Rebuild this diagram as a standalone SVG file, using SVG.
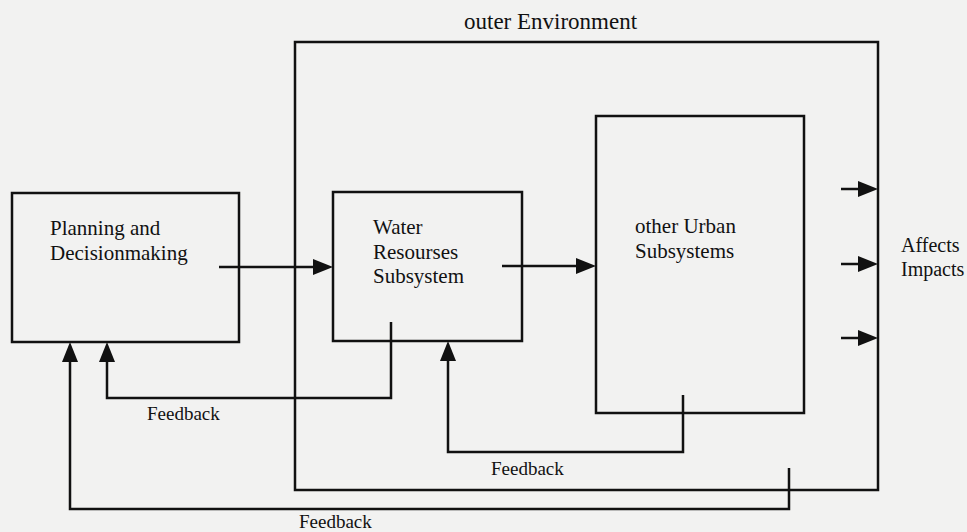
<svg xmlns="http://www.w3.org/2000/svg" width="967" height="532" viewBox="0 0 967 532">
<defs>
<style>
.box{fill:none;stroke:#111;stroke-width:2.5}
.ln{fill:none;stroke:#111;stroke-width:2.5;marker-end:url(#ah)}
text{font-family:"Liberation Serif","Times New Roman",serif;fill:#111;font-size:21px}
.fb{font-size:19px}
.ot{font-size:23px}
.af{font-size:20px}
</style>
<marker id="ah" markerUnits="userSpaceOnUse" markerWidth="20" markerHeight="16" refX="10" refY="8" orient="auto">
<path d="M0,0 L20,8 L0,16 z" fill="#111"/>
</marker>
</defs>
<rect width="967" height="532" fill="#f2f2f1"/>
<g id="outer">
<rect class="box" x="295" y="42" width="583" height="448"/>
<text class="ot" x="464" y="29">outer Environment</text>
</g>
<g id="planning">
<rect class="box" x="12" y="193" width="227" height="149"/>
<text x="50" y="235">Planning and</text>
<text x="50" y="260">Decisionmaking</text>
</g>
<g id="water">
<rect class="box" x="333" y="192" width="189" height="149"/>
<text x="373" y="234">Water</text>
<text x="373" y="259">Resourses</text>
<text x="373" y="283">Subsystem</text>
</g>
<g id="urban">
<rect class="box" x="596" y="116" width="208" height="297"/>
<text x="635" y="233">other Urban</text>
<text x="635" y="258">Subsystems</text>
</g>
<g id="impacts">
<text class="af" x="901" y="252">Affects</text>
<text class="af" x="901" y="276">Impacts</text>
</g>
<g id="connectors">
<path class="ln" d="M219,267 H323"/>
<path class="ln" d="M502,266 H586"/>
<path class="ln" d="M841,189 H868"/>
<path class="ln" d="M841,264 H868"/>
<path class="ln" d="M841,338 H868"/>
<path class="ln" d="M391,322 V398 H107 V352"/>
<path class="ln" d="M683,395 V452 H448 V351"/>
<path class="ln" d="M789,468 V509 H70 V352"/>
<text class="fb" x="147" y="420">Feedback</text>
<text class="fb" x="491" y="475">Feedback</text>
<text class="fb" x="299" y="528">Feedback</text>
</g>
</svg>
